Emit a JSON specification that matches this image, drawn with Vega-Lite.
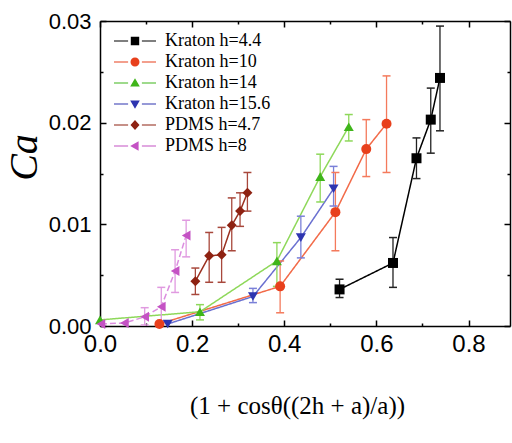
{
  "$schema": "https://vega.github.io/schema/vega-lite/v6.json",
  "width": 410,
  "height": 305,
  "autosize": {"type": "none"},
  "padding": {"left": 100, "top": 21, "right": 2, "bottom": 117},
  "background": "white",
  "config": {"view": {"stroke": null}},
  "data": {
    "values": [
      {"series": "Kraton h=4.4", "x": 0.520, "y": 0.0036, "lo": 0.0028, "hi": 0.0046},
      {"series": "Kraton h=4.4", "x": 0.636, "y": 0.0062, "lo": 0.0038, "hi": 0.0087},
      {"series": "Kraton h=4.4", "x": 0.687, "y": 0.0165, "lo": 0.0145, "hi": 0.0185},
      {"series": "Kraton h=4.4", "x": 0.718, "y": 0.0203, "lo": 0.0170, "hi": 0.0234},
      {"series": "Kraton h=4.4", "x": 0.738, "y": 0.0244, "lo": 0.0192, "hi": 0.0295},
      {"series": "Kraton h=10", "x": 0.129, "y": 0.0002, "lo": null, "hi": null},
      {"series": "Kraton h=10", "x": 0.391, "y": 0.0039, "lo": 0.0013, "hi": 0.0064},
      {"series": "Kraton h=10", "x": 0.511, "y": 0.0112, "lo": 0.0074, "hi": 0.0151},
      {"series": "Kraton h=10", "x": 0.578, "y": 0.0174, "lo": 0.0147, "hi": 0.0203},
      {"series": "Kraton h=10", "x": 0.622, "y": 0.0199, "lo": 0.0151, "hi": 0.0246},
      {"series": "Kraton h=14", "x": 0.0, "y": 0.0006, "lo": null, "hi": null},
      {"series": "Kraton h=14", "x": 0.217, "y": 0.0014, "lo": 0.0006, "hi": 0.0021},
      {"series": "Kraton h=14", "x": 0.384, "y": 0.0064, "lo": 0.0039, "hi": 0.0082},
      {"series": "Kraton h=14", "x": 0.478, "y": 0.0147, "lo": 0.0122, "hi": 0.0169},
      {"series": "Kraton h=14", "x": 0.540, "y": 0.0196, "lo": 0.0182, "hi": 0.0208},
      {"series": "Kraton h=15.6", "x": 0.147, "y": 0.0002, "lo": null, "hi": null},
      {"series": "Kraton h=15.6", "x": 0.332, "y": 0.0029, "lo": 0.0023, "hi": 0.0037},
      {"series": "Kraton h=15.6", "x": 0.436, "y": 0.0087, "lo": 0.0067, "hi": 0.0108},
      {"series": "Kraton h=15.6", "x": 0.507, "y": 0.0135, "lo": 0.0118, "hi": 0.0157},
      {"series": "PDMS h=4.7", "x": 0.207, "y": 0.0044, "lo": 0.0031, "hi": 0.0057},
      {"series": "PDMS h=4.7", "x": 0.237, "y": 0.0069, "lo": 0.0043, "hi": 0.0092},
      {"series": "PDMS h=4.7", "x": 0.264, "y": 0.0070, "lo": 0.0043, "hi": 0.0097},
      {"series": "PDMS h=4.7", "x": 0.286, "y": 0.0099, "lo": 0.0074, "hi": 0.0126},
      {"series": "PDMS h=4.7", "x": 0.304, "y": 0.0113, "lo": 0.0098, "hi": 0.0131},
      {"series": "PDMS h=4.7", "x": 0.320, "y": 0.0131, "lo": 0.0113, "hi": 0.0151},
      {"series": "PDMS h=8", "x": 0.002, "y": 0.0002, "lo": null, "hi": null},
      {"series": "PDMS h=8", "x": 0.053, "y": 0.0003, "lo": null, "hi": null},
      {"series": "PDMS h=8", "x": 0.097, "y": 0.0009, "lo": 0.0001, "hi": 0.0018},
      {"series": "PDMS h=8", "x": 0.133, "y": 0.0019, "lo": 0.0004, "hi": 0.0038},
      {"series": "PDMS h=8", "x": 0.163, "y": 0.0054, "lo": 0.0033, "hi": 0.0075},
      {"series": "PDMS h=8", "x": 0.187, "y": 0.0089, "lo": 0.0068, "hi": 0.0104}
    ]
  },
  "resolve": {
    "scale": {"color": "independent", "shape": "independent"},
    "axis": {"x": "independent", "y": "independent"}
  },
  "layer": [
    {
      "mark": {"type": "line", "strokeWidth": 1.5},
      "encoding": {
        "x": {
          "field": "x", "type": "quantitative",
          "scale": {"domain": [0, 0.89], "nice": false, "zero": false},
          "axis": {
            "orient": "bottom",
            "values": [0, 0.1, 0.2, 0.3, 0.4, 0.5, 0.6, 0.7, 0.8],
            "labelExpr": "abs(datum.value*5-round(datum.value*5))<0.001 ? format(datum.value,'.1f') : ''",
            "tickSize": {"condition": {"test": "abs(datum.value*5-round(datum.value*5))<0.001", "value": -6}, "value": -3},
            "tickColor": "black", "tickWidth": 1.5,
            "domainColor": "black", "domainWidth": 1.5,
            "labelFont": "Liberation Sans", "labelFontSize": 24, "labelColor": "black",
            "labelPadding": 12, "labelFlush": false, "labelOverlap": false,
            "grid": false,
            "title": "(1 + cosθ((2h + a)/a))",
            "titleFont": "Liberation Serif", "titleFontSize": 25, "titleFontWeight": "normal",
            "titleColor": "black", "titleX": 197, "titleY": 79, "titleBaseline": "middle", "titleAlign": "center"
          }
        },
        "y": {
          "field": "y", "type": "quantitative",
          "scale": {"domain": [0, 0.03], "nice": false},
          "axis": {
            "orient": "left",
            "values": [0, 0.005, 0.01, 0.015, 0.02, 0.025, 0.03],
            "labelExpr": "abs(datum.value*100-round(datum.value*100))<0.001 ? format(datum.value,'.2f') : ''",
            "tickSize": {"condition": {"test": "abs(datum.value*100-round(datum.value*100))<0.001", "value": -6}, "value": -3},
            "tickColor": "black", "tickWidth": 1.5,
            "domainColor": "black", "domainWidth": 1.5,
            "labelFont": "Liberation Sans", "labelFontSize": 22, "labelColor": "black",
            "labelPadding": 15, "labelFlush": false, "labelOverlap": false,
            "grid": false,
            "title": "Ca",
            "titleFont": "Liberation Serif", "titleFontSize": 40, "titleFontWeight": "normal", "titleFontStyle": "italic",
            "titleColor": "black", "titleX": -76, "titleY": 136, "titleBaseline": "middle", "titleAlign": "center", "titleAngle": -90
          }
        },
        "color": {
          "field": "series", "type": "nominal",
          "scale": {"domain": ["Kraton h=4.4", "Kraton h=10", "Kraton h=14", "Kraton h=15.6", "PDMS h=4.7", "PDMS h=8"],
                    "range": ["#000000", "#f26a48", "#8ed85a", "#6a70d0", "#9a3020", "#dc8ee0"]},
          "legend": null
        },
        "strokeDash": {
          "field": "series", "type": "nominal",
          "scale": {"domain": ["Kraton h=4.4", "Kraton h=10", "Kraton h=14", "Kraton h=15.6", "PDMS h=4.7", "PDMS h=8"],
                    "range": [[1, 0], [1, 0], [1, 0], [1, 0], [1, 0], [6, 3]]},
          "legend": null
        }
      }
    },
    {
      "transform": [{"filter": "isValid(datum.lo)"}],
      "mark": {"type": "rule", "strokeWidth": 1.3},
      "encoding": {
        "x": {"field": "x", "type": "quantitative", "scale": {"domain": [0, 0.89], "nice": false, "zero": false}, "axis": null},
        "y": {"field": "lo", "type": "quantitative", "scale": {"domain": [0, 0.03], "nice": false}, "axis": null},
        "y2": {"field": "hi"},
        "color": {
          "field": "series", "type": "nominal",
          "scale": {"domain": ["Kraton h=4.4", "Kraton h=10", "Kraton h=14", "Kraton h=15.6", "PDMS h=4.7", "PDMS h=8"],
                    "range": ["#222222", "#f47a5c", "#8ed85a", "#7a80d8", "#a8483c", "#e09ae0"]},
          "legend": null
        }
      }
    },
    {
      "transform": [{"filter": "isValid(datum.lo)"}],
      "mark": {"type": "tick", "orient": "horizontal", "size": 8, "thickness": 1.5, "opacity": 1},
      "encoding": {
        "x": {"field": "x", "type": "quantitative", "scale": {"domain": [0, 0.89], "nice": false, "zero": false}, "axis": null},
        "y": {"field": "lo", "type": "quantitative", "scale": {"domain": [0, 0.03], "nice": false}, "axis": null},
        "color": {
          "field": "series", "type": "nominal",
          "scale": {"domain": ["Kraton h=4.4", "Kraton h=10", "Kraton h=14", "Kraton h=15.6", "PDMS h=4.7", "PDMS h=8"],
                    "range": ["#222222", "#f47a5c", "#8ed85a", "#7a80d8", "#a8483c", "#e09ae0"]},
          "legend": null
        }
      }
    },
    {
      "transform": [{"filter": "isValid(datum.hi)"}],
      "mark": {"type": "tick", "orient": "horizontal", "size": 8, "thickness": 1.5, "opacity": 1},
      "encoding": {
        "x": {"field": "x", "type": "quantitative", "scale": {"domain": [0, 0.89], "nice": false, "zero": false}, "axis": null},
        "y": {"field": "hi", "type": "quantitative", "scale": {"domain": [0, 0.03], "nice": false}, "axis": null},
        "color": {
          "field": "series", "type": "nominal",
          "scale": {"domain": ["Kraton h=4.4", "Kraton h=10", "Kraton h=14", "Kraton h=15.6", "PDMS h=4.7", "PDMS h=8"],
                    "range": ["#222222", "#f47a5c", "#8ed85a", "#7a80d8", "#a8483c", "#e09ae0"]},
          "legend": null
        }
      }
    },
    {
      "mark": {"type": "point", "filled": true, "size": 100, "opacity": 1},
      "encoding": {
        "x": {"field": "x", "type": "quantitative", "scale": {"domain": [0, 0.89], "nice": false, "zero": false}, "axis": null},
        "y": {"field": "y", "type": "quantitative", "scale": {"domain": [0, 0.03], "nice": false}, "axis": null},
        "color": {
          "field": "series", "type": "nominal",
          "scale": {"domain": ["Kraton h=4.4", "Kraton h=10", "Kraton h=14", "Kraton h=15.6", "PDMS h=4.7", "PDMS h=8"],
                    "range": ["#000000", "#e8401c", "#3fb51a", "#2e35b0", "#8e2212", "#c452c4"]},
          "legend": null
        },
        "shape": {
          "field": "series", "type": "nominal",
          "scale": {"domain": ["Kraton h=4.4", "Kraton h=10", "Kraton h=14", "Kraton h=15.6", "PDMS h=4.7", "PDMS h=8"],
                    "range": ["square", "circle", "triangle-up", "triangle-down", "diamond", "triangle-left"]},
          "legend": null
        }
      }
    },
    {
      "mark": {"type": "point", "filled": true, "opacity": 0},
      "encoding": {
        "x": {
          "field": "x", "type": "quantitative",
          "scale": {"domain": [0, 0.89], "nice": false, "zero": false},
          "axis": {
            "orient": "top",
            "values": [0, 0.1, 0.2, 0.3, 0.4, 0.5, 0.6, 0.7, 0.8],
            "labels": false,
            "tickSize": {"condition": {"test": "abs(datum.value*5-round(datum.value*5))<0.001", "value": -6}, "value": -3},
            "tickColor": "black", "tickWidth": 1.5,
            "domainColor": "black", "domainWidth": 1.5,
            "grid": false, "title": null
          }
        },
        "y": {
          "field": "y", "type": "quantitative",
          "scale": {"domain": [0, 0.03], "nice": false},
          "axis": {
            "orient": "right",
            "values": [0, 0.005, 0.01, 0.015, 0.02, 0.025, 0.03],
            "labels": false,
            "tickSize": {"condition": {"test": "abs(datum.value*100-round(datum.value*100))<0.001", "value": -6}, "value": -3},
            "tickColor": "black", "tickWidth": 1.5,
            "domainColor": "black", "domainWidth": 1.5,
            "grid": false, "title": null
          }
        },
        "color": {
          "field": "series", "type": "nominal",
          "scale": {"domain": ["Kraton h=4.4", "Kraton h=10", "Kraton h=14", "Kraton h=15.6", "PDMS h=4.7", "PDMS h=8"],
                    "range": ["#000000", "#e8401c", "#3fb51a", "#2e35b0", "#8e2212", "#c452c4"]},
          "legend": {"title": null, "orient": "none", "legendX": 26, "legendY": 11, "padding": 0, "symbolSize": 36, "symbolOpacity": 1, "symbolStrokeWidth": 0, "labelFont": "Liberation Serif", "labelFontSize": 18, "labelColor": "black", "labelOffset": 21, "rowPadding": 3, "labelLimit": 300}
        },
        "shape": {
          "field": "series", "type": "nominal",
          "scale": {"domain": ["Kraton h=4.4", "Kraton h=10", "Kraton h=14", "Kraton h=15.6", "PDMS h=4.7", "PDMS h=8"],
                    "range": [
                      "M-7,-0.2H-2.3V0.2H-7ZM2.3,-0.2H7V0.2H2.3ZM-1.4,-1.4H1.4V1.4H-1.4Z",
                      "M-7,-0.2H-2.3V0.2H-7ZM2.3,-0.2H7V0.2H2.3ZM-1.5,0A1.5,1.5,0,1,0,1.5,0A1.5,1.5,0,1,0,-1.5,0Z",
                      "M-7,-0.2H-2.3V0.2H-7ZM2.3,-0.2H7V0.2H2.3ZM0,-1.6L1.6,1.2L-1.6,1.2Z",
                      "M-7,-0.2H-2.3V0.2H-7ZM2.3,-0.2H7V0.2H2.3ZM0,1.6L1.6,-1.2L-1.6,-1.2Z",
                      "M-7,-0.2H-2.3V0.2H-7ZM2.3,-0.2H7V0.2H2.3ZM0,-1.7L1.5,0L0,1.7L-1.5,0Z",
                      "M-7,-0.2H-2.3V0.2H-7ZM2.3,-0.2H7V0.2H2.3ZM-1.6,0L1.2,-1.6L1.2,1.6Z"
                    ]},
          "legend": {"title": null, "orient": "none", "legendX": 26, "legendY": 11, "padding": 0, "symbolSize": 36, "symbolOpacity": 1, "symbolStrokeWidth": 0, "labelFont": "Liberation Serif", "labelFontSize": 18, "labelColor": "black", "labelOffset": 21, "rowPadding": 3, "labelLimit": 300}
        }
      }
    }
  ]
}
